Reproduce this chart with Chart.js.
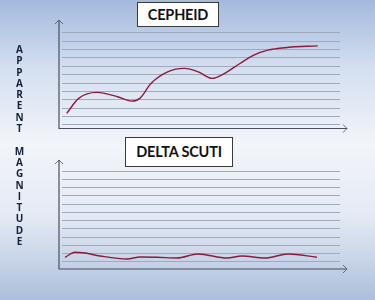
<!DOCTYPE html>
<html>
<head>
<meta charset="utf-8">
<script src="https://cdn.jsdelivr.net/npm/chart.js@4/dist/chart.umd.min.js"></script>
<style>
  html, body { margin: 0; padding: 0; }
  #wrap {
    position: relative; width: 375px; height: 300px; overflow: hidden;
    background: linear-gradient(180deg, #a3b9dd 0%, #d3deef 22%, #f2f5fa 48%, #e4eaf4 72%, #adbfdd 100%);
    font-family: Lato, "Open Sans", sans-serif;
  }
  canvas { position: absolute; left: 0; top: 0; }
  .title {
    position: absolute; background: #fff; border: 1px solid #3a3a3a;
    font-weight: bold; font-size: 14.5px; color: #111; text-align: center;
    box-sizing: border-box; letter-spacing: -0.2px;
  }
  #ylabel {
    position: absolute; left: 12px; top: 44px; width: 15px; text-align: center;
    font-family: "Open Sans", sans-serif;
    font-weight: 700; font-size: 10px; line-height: 11.3px; color: #16203a;
  }
</style>
</head>
<body>
<div id="wrap">
  <canvas id="cepheid" width="375" height="300"></canvas>
  <canvas id="delta" width="375" height="300"></canvas>
  <div class="title" style="left:137px;top:2px;width:82px;height:25px;line-height:23px;">CEPHEID</div>
  <div class="title" style="left:125px;top:137px;width:108px;height:30px;line-height:28px;">DELTA SCUTI</div>
  <div id="ylabel">A<br>P<br>P<br>A<br>R<br>E<br>N<br>T<br><br>M<br>A<br>G<br>N<br>I<br>T<br>U<br>D<br>E</div>
</div>
<script>
// time axis (0-100) and magnitude
var cepheidTime = [1.7, 6, 12.5, 20, 25, 28, 32, 38, 44, 49, 54, 58, 64, 69, 74, 81, 92];
var cepheidMag  = [1.36, 3.16, 3.88, 3.35, 2.83, 3.16, 4.95, 6.34, 6.75, 6.34, 5.55, 6.06, 7.34, 8.34, 8.94, 9.26, 9.45];

var deltaTime = [1.1, 4.7, 7.6, 13.7, 23.4, 28.1, 34.2, 41.4, 48.9, 59.4, 64.7, 73, 81.3, 91.7];
var deltaMag  = [0.57, 1.17, 1.12, 0.73, 0.36, 0.6, 0.57, 0.48, 0.97, 0.48, 0.73, 0.48, 0.97, 0.57];

// horizontal guide lines
var gridLines = [0, 1, 2, 3, 4, 5, 6, 7, 8, 9, 10, 11];

function toPoints(xs, ys) {
  return xs.map(function (x, i) { return { x: x, y: ys[i] }; });
}

// axis lines with open arrow heads
var arrowAxes = {
  id: 'arrowAxes',
  afterDraw: function (chart) {
    var c = chart.ctx, a = chart.chartArea;
    var x0 = a.left - 3, y0 = a.bottom, xEnd = a.right + 7, yEnd = a.top;
    c.save();
    c.strokeStyle = '#4b4f5c';
    c.lineWidth = 1.2;
    c.beginPath();
    c.moveTo(x0, yEnd); c.lineTo(x0, y0); c.lineTo(xEnd, y0);
    c.stroke();
    c.lineWidth = 0.8;
    c.beginPath();
    c.moveTo(x0 - 4, yEnd + 4); c.lineTo(x0, yEnd); c.lineTo(x0 + 4, yEnd + 4);
    c.moveTo(xEnd - 4, y0 - 4); c.lineTo(xEnd, y0); c.lineTo(xEnd - 4, y0 + 4);
    c.stroke();
    c.restore();
  }
};

function makeChart(id, points, yMin, yMax, pad) {
  return new Chart(document.getElementById(id), {
    type: 'line',
    data: {
      datasets: [{
        data: points,
        borderColor: '#8c1a3c',
        borderWidth: 1.4,
        pointRadius: 0,
        cubicInterpolationMode: 'monotone',
        fill: false
      }]
    },
    options: {
      responsive: false,
      animation: false,
      layout: { padding: pad },
      plugins: { legend: { display: false }, tooltip: { enabled: false } },
      scales: {
        x: { type: 'linear', min: 0, max: 100, display: false },
        y: {
          min: yMin, max: yMax,
          afterBuildTicks: function (s) { s.ticks = gridLines.map(function (v) { return { value: v }; }); },
          ticks: { display: false },
          border: { display: false },
          grid: { color: '#a0aabd', lineWidth: 1, drawTicks: false }
        }
      }
    },
    plugins: [arrowAxes]
  });
}

makeChart('cepheid', toPoints(cepheidTime, cepheidMag), -0.45, 12.55,
  { left: 62, right: 35, top: 20, bottom: 171.5 });
makeChart('delta', toPoints(deltaTime, deltaMag), -0.85, 12.35,
  { left: 62, right: 35, top: 160, bottom: 31 });
</script>
</body>
</html>
